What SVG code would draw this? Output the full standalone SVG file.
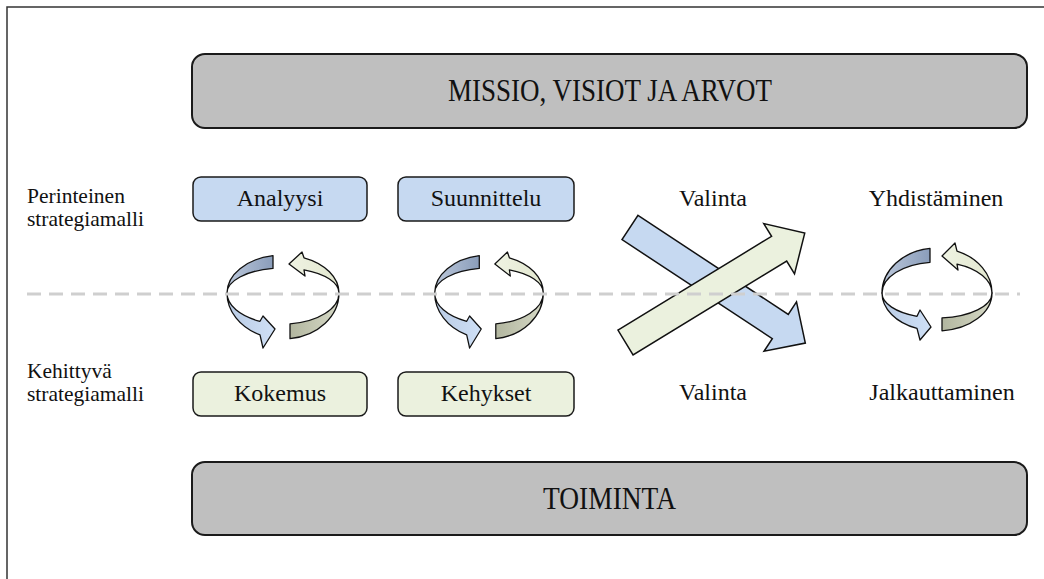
<svg xmlns="http://www.w3.org/2000/svg" width="1044" height="579" viewBox="0 0 1044 579">
  <style>
    .big { fill: #BFBFBF; stroke: #1a1a1a; stroke-width: 2; }
    .blue { fill: #C6D9F1; stroke: #1a1a1a; stroke-width: 1.5; }
    .green { fill: #EBF1DE; stroke: #1a1a1a; stroke-width: 1.5; }
    .band { stroke: #111; stroke-width: 1.3; stroke-linejoin: round; }
    .xarrow { stroke: #111; stroke-width: 1.5; stroke-linejoin: miter; }
  </style>
  <defs>
    <linearGradient id="gTL" x1="0" y1="0" x2="1" y2="0">
      <stop offset="0" stop-color="#BCC8DB"/>
      <stop offset="1" stop-color="#8A9DBA"/>
    </linearGradient>
    <linearGradient id="gBL" x1="0" y1="0" x2="1" y2="0">
      <stop offset="0" stop-color="#B9CBE4"/>
      <stop offset="1" stop-color="#CFE0F6"/>
    </linearGradient>
    <linearGradient id="gTR" x1="0" y1="0" x2="1" y2="0">
      <stop offset="0" stop-color="#EFF3E3"/>
      <stop offset="1" stop-color="#E2E7CF"/>
    </linearGradient>
    <linearGradient id="gBR" x1="0" y1="0" x2="1" y2="0">
      <stop offset="0" stop-color="#B2B69F"/>
      <stop offset="1" stop-color="#D6D9C6"/>
    </linearGradient>
    <!-- ribbon cycle, standard proportions -->
    <g id="cycleA">
      <path class="band" fill="url(#gTL)" d="M-56,0 A56,38 0 0 1 -10,-37.4 L-10,-24.6 A56,25 0 0 0 -56,0 Z"/>
      <path class="band" fill="url(#gTR)" d="M56,0 A56,38 0 0 0 21,-35.2 L19,-41 L6,-29 L22,-17 L21,-23.2 A56,25 0 0 1 56,0 Z"/>
      <path class="band" fill="url(#gBL)" d="M-56,0 A56,46 0 0 0 -23,41.9 L-20,55 L-8,36 L-20,23 L-23,28.3 A56,31 0 0 1 -56,0 Z"/>
      <path class="band" fill="url(#gBR)" d="M56,0 A56,46 0 0 1 7,45.6 L7,30.8 A56,31 0 0 0 56,0 Z"/>
    </g>
    <!-- long arrow along +x, tail centred at origin -->
    <path id="longArrow" d="M0,-14.5 L180,-14.5 L180,-29.5 L210,0 L180,29.5 L180,14.5 L0,14.5 Z"/>
  </defs>

  <!-- frame -->
  <rect x="7" y="7" width="1100" height="700" fill="none" stroke="#333" stroke-width="1.5"/>

  <g font-family="Liberation Serif, DejaVu Serif, serif" fill="#111">
  <!-- top band -->
  <g id="missio">
    <rect class="big" x="192" y="54" width="835" height="74" rx="13"/>
    <text x="448" y="101" font-size="32" textLength="324" lengthAdjust="spacingAndGlyphs">MISSIO, VISIOT JA ARVOT</text>
  </g>

  <!-- row labels -->
  <g id="perinteinen">
    <text x="27" y="203" font-size="21.5">Perinteinen</text>
    <text x="27" y="226" font-size="21.5">strategiamalli</text>
  </g>
  <g id="kehittyva">
    <text x="27" y="378" font-size="21.5">Kehittyvä</text>
    <text x="27" y="401" font-size="21.5">strategiamalli</text>
  </g>

  <!-- traditional model steps -->
  <g id="analyysi">
    <rect class="blue" x="193" y="177" width="174" height="44" rx="8"/>
    <text x="280" y="206" font-size="24" text-anchor="middle">Analyysi</text>
  </g>
  <g id="suunnittelu">
    <rect class="blue" x="398" y="177" width="176" height="44" rx="8"/>
    <text x="486" y="206" font-size="24" text-anchor="middle">Suunnittelu</text>
  </g>

  <!-- emergent model steps -->
  <g id="kokemus">
    <rect class="green" x="193" y="372" width="174" height="44" rx="8"/>
    <text x="280" y="401" font-size="24" text-anchor="middle">Kokemus</text>
  </g>
  <g id="kehykset">
    <rect class="green" x="398" y="372" width="176" height="44" rx="8"/>
    <text x="486" y="401" font-size="24" text-anchor="middle">Kehykset</text>
  </g>

  <g id="valinta-top">
    <text x="713" y="206" font-size="24" text-anchor="middle">Valinta</text>
  </g>
  <g id="valinta-bottom">
    <text x="713" y="400" font-size="24" text-anchor="middle">Valinta</text>
  </g>
  <g id="yhdistaminen">
    <text x="936" y="206" font-size="24" text-anchor="middle">Yhdistäminen</text>
  </g>
  <g id="jalkauttaminen">
    <text x="942" y="400" font-size="24" text-anchor="middle">Jalkauttaminen</text>
  </g>

  <!-- bottom band -->
  <g id="toiminta">
    <rect class="big" x="192" y="462" width="835" height="73" rx="13"/>
    <text x="543" y="509" font-size="32" textLength="133" lengthAdjust="spacingAndGlyphs">TOIMINTA</text>
  </g>
  </g>

  <!-- connectors: cycles and crossing arrows -->
  <g id="connectors">
    <use href="#cycleA" transform="translate(283,293)"/>
    <use href="#cycleA" transform="translate(489,293) scale(0.97,1)"/>
    <g id="cycle3" transform="translate(937,293)">
      <path class="band" fill="url(#gTL)" d="M-55,0 A55,45 0 0 1 -7,-44.6 L-7,-30.7 A55,31 0 0 0 -55,0 Z"/>
      <path class="band" fill="url(#gTR)" d="M55,0 A55,45 0 0 0 20,-41.9 L18,-50 L5,-37 L21,-23 L20,-28.9 A55,31 0 0 1 55,0 Z"/>
      <path class="band" fill="url(#gBL)" d="M-55,0 A55,38 0 0 0 -20,35.4 L-17,47 L-6,34 L-17,17 L-20,23.3 A55,25 0 0 1 -55,0 Z"/>
      <path class="band" fill="url(#gBR)" d="M55,0 A55,38 0 0 1 5,37.8 L5,24.9 A55,25 0 0 0 55,0 Z"/>
    </g>
    <use href="#longArrow" class="xarrow" fill="#C6D9F1" transform="translate(630,227.5) rotate(33.4)"/>
    <use href="#longArrow" class="xarrow" fill="#EBF1DE" transform="translate(625.5,342.5) rotate(-31.4)"/>
    <!-- divider between the two models -->
    <line x1="27" y1="294" x2="1020" y2="294" stroke="#CFCFCF" stroke-width="3" stroke-dasharray="14 8"/>
  </g>
</svg>
